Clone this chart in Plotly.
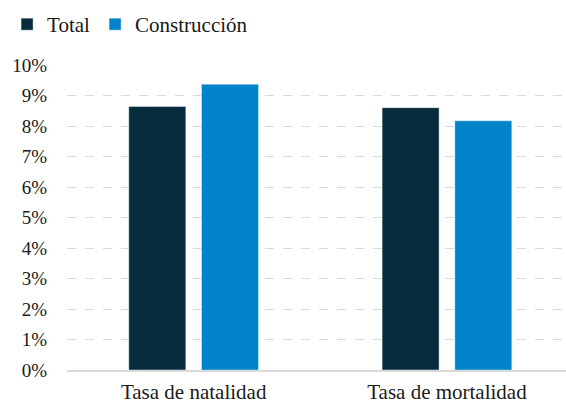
import plotly.graph_objects as go

categories = ["Tasa de natalidad", "Tasa de mortalidad"]
total = [0.0864, 0.0860]
construccion = [0.0937, 0.0817]
y_ticks = [i / 100 for i in range(0, 11)]
y_labels = [f"{i}%" for i in range(0, 11)]

FONT = "Liberation Serif, DejaVu Serif, serif"
TEXT = "#1a1a1a"

fig = go.Figure()
fig.add_trace(go.Bar(name="Total", x=categories, y=total,
                     marker=dict(color="#072C3E", line=dict(color="rgba(255,255,255,0.5)", width=0.8))))
fig.add_trace(go.Bar(name="Construcción", x=categories, y=construccion,
                     marker=dict(color="#0083C8", line=dict(color="rgba(255,255,255,0.5)", width=0.8))))

fig.update_layout(
    width=566, height=403,
    margin=dict(l=67, r=0, t=65, b=33),
    paper_bgcolor="white", plot_bgcolor="white",
    barmode="group", bargap=0.426, bargroupgap=0.216,
    font=dict(family=FONT, size=19, color=TEXT),
    showlegend=True,
    legend=dict(orientation="h", xref="container", yref="container",
                x=0.0125, y=0.99, xanchor="left", yanchor="top",
                font=dict(family=FONT, size=21, color=TEXT),
                itemwidth=30, traceorder="normal"),
    xaxis=dict(type="category", range=[-0.5, 1.47], showgrid=False,
               showline=True, linecolor="#d9d9d9", linewidth=1.5,
               ticks="", ticklabelstandoff=2, automargin=False,
               tickfont=dict(family=FONT, size=21, color=TEXT)),
    yaxis=dict(range=[0, 0.1], tickvals=y_ticks, ticktext=y_labels,
               showgrid=True, gridcolor="#d9d9d9", griddash="dash", gridwidth=1,
               zeroline=False, showline=False, ticks="", ticklabelstandoff=19,
               automargin=False,
               tickfont=dict(family=FONT, size=19, color=TEXT)),
)

fig.write_html("out.html", config={"displayModeBar": False},
               post_script="document.body.style.margin='0';document.body.style.overflow='hidden';")
